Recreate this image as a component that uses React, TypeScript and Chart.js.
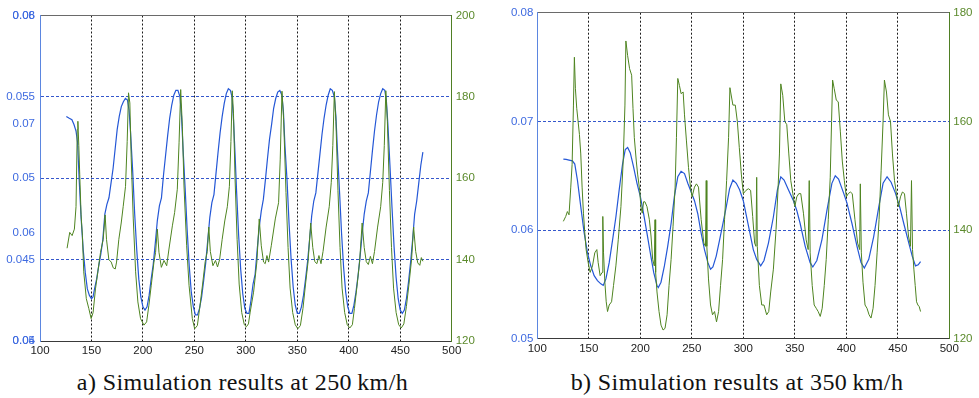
import React, { useEffect, useRef } from "react";
import { Chart, registerables } from "chart.js";

Chart.register(...registerables);

// ---------- Panel a) 250 km/h ----------
const A_BLUE_X = [125.6,128,131,133,135,136.5,138,140,142,144,146,148,150,151.5,153,155,157,159,161,163,165,167,169,171,173,175,177,179,181,183,185,186.5,188,190,192,194,196,198,200,202,204,206,208,210,212,214,216,218,220,222,224,226,228,230,232,234,236,237.5,239,241,243,245,247,249,251,253,255,257,259,261,263,265,267,269,271,273,275,277,279,281,283,285,286.5,288,289.5,291,293,295,297,299,301,303,305,307,309,311,313,315,317,319,321,323,325,327,329,331,333,335,336.5,338,340,342,344,346,348,350,352,354,356,358,360,362,364,366,368,370,372,374,376,378,380,382,384,386,387.5,389,391,393,395,397,399,401,403,405,407,409,411,413,415,417,419,421,423,425,427,429,431,433,435,436.5,438,440,442,444,446,448,450,452,454,456,458,460,462,464,466,468,470,472];
const A_BLUE = [0.0538,0.0537,0.0536,0.0533,0.0529,0.0522,0.05,0.0475,0.0456,0.0442,0.0432,0.0428,0.0426,0.0427,0.0432,0.0438,0.0446,0.0453,0.0462,0.0478,0.0484,0.0488,0.0497,0.0506,0.0518,0.053,0.0538,0.0544,0.0547,0.0549,0.0548,0.0542,0.0528,0.0505,0.0478,0.0456,0.0438,0.0427,0.0421,0.0419,0.0421,0.0428,0.0438,0.0447,0.046,0.0474,0.0483,0.0488,0.0502,0.0514,0.0526,0.0537,0.0545,0.0551,0.0554,0.0554,0.055,0.0538,0.0518,0.0494,0.0468,0.0446,0.043,0.0421,0.0416,0.0416,0.042,0.0427,0.0437,0.0448,0.0462,0.0476,0.0485,0.049,0.0503,0.0516,0.0528,0.0538,0.0546,0.0552,0.0555,0.0554,0.055,0.0536,0.0515,0.0492,0.0465,0.0444,0.0429,0.042,0.0417,0.0417,0.0425,0.0435,0.0441,0.0456,0.047,0.048,0.0487,0.0499,0.0512,0.0524,0.0533,0.0543,0.0549,0.0553,0.0554,0.0551,0.0541,0.052,0.0499,0.0472,0.045,0.0433,0.0422,0.0417,0.0417,0.0421,0.0428,0.0438,0.0449,0.0463,0.0477,0.0486,0.0491,0.0503,0.0515,0.0527,0.0537,0.0545,0.0551,0.0555,0.0554,0.055,0.0538,0.0517,0.0492,0.0466,0.0445,0.043,0.0421,0.0417,0.0417,0.0422,0.043,0.044,0.0452,0.0466,0.0478,0.0486,0.0491,0.0504,0.0517,0.0529,0.0539,0.0547,0.0552,0.0555,0.0554,0.0548,0.0533,0.0508,0.0482,0.0458,0.0439,0.0426,0.0419,0.0417,0.0419,0.0426,0.0436,0.0448,0.0462,0.0478,0.0486,0.0497,0.0508,0.0516];

const A_GREEN_X = [126.3,128.9,131.2,133.4,135,136.2,136.8,137.7,138.6,139.9,141.2,142.5,145,147.4,149.7,151.6,153.9,156.2,158.8,161.4,163.3,164.6,166.9,169.2,171.1,173.1,174.4,176.6,178.9,180.8,183.1,184.7,186,187.3,188.6,190.6,192.9,195.1,197.7,201,203.6,205.8,208.1,210.7,212.3,214,215.6,217.9,220.5,223.1,225.3,228.6,230.8,233.4,235.1,236.7,238.3,239.9,242.5,244.8,248,250.3,252.9,255.5,258,260.5,262.5,264,265.5,268,270.5,272.5,274.5,277,279.5,282,284,285.5,286.8,288,289.5,291.5,293.5,296,298.5,300.5,302.5,304.2,307.5,310.7,313,315,317.2,318.8,320.5,322.1,324.7,328.6,331.8,333.4,335.1,336.7,339,341,343,345.5,348,350.5,353,355.5,358,360.5,363,365,367,369,371,373,375,378,381,383,384.5,386,387.5,389.5,391.5,393.5,396,398.5,401,403.5,405.5,408,410.5,413,415,417,419,421,423,425,428,431,433,434.5,436,437.5,439.5,441.5,443.5,446,448.5,451,453.5,456,458.5,461,463,465,467,469,470.5,472];
const A_GREEN = [142.8,146.7,145.9,147.5,153,172,174,168,161,151,146,137,130.4,128,125.5,127,132.8,137,141.8,145,151,145,140,139.4,138,137.7,139.4,145,149,153,158,169,181,178.5,165,150,137,129.6,125.5,123.9,124.7,128.8,133.7,139.4,141.8,147.5,141.8,138.1,139.8,138.5,142.6,148.3,151.6,157.3,168.7,181.8,172.8,158.1,143.4,133.7,125.5,123,123.8,128.8,134,139.5,142,148,142,138.5,139.8,138.2,140,145,149.5,153,158,169,181.5,176,160,145,134,127,124,123.5,124.2,127.1,132,139.4,150,143.4,139.4,139,141,139.4,143.4,150,154,164.7,181.4,174.5,156.5,143,133,127,124,123,123.8,128,134,139.6,149,143,139.5,139,141,139,142,148,153,159,168,181.3,174,157,143,133,127,124,123.2,124,128,133.5,139.5,149,143,139.5,138.8,140.8,139,142,148,153,159,168,181.5,174,157,143,133,127,124,123.2,124.2,128.5,134,140,148,142,139.2,138.6,140.5,139.6];

// left axis of panel a) carries two overlapping tick sets
const A_LEFT_TICKS = [0.04, 0.04, 0.045, 0.046667, 0.05, 0.053333, 0.055, 0.06, 0.06];
const A_LEFT_LABELS = ["0.04", "0.05", "0.045", "0.06", "0.05", "0.07", "0.055", "0.06", "0.08"];
const A_LEFT_GRID = [0.045, 0.05, 0.055];
const A_RIGHT_MIN = 120;
const A_RIGHT_MAX = 200;

// ---------- Panel b) 350 km/h ----------
const B_BLUE_X = [125.3,128,130.8,134.1,136.4,139,142.2,145.5,148.7,151.9,155.2,158.4,161.7,164,166.6,169.8,173.1,176.3,179.5,182.8,185.4,187.7,190.3,193.5,196.8,200,203.2,206.5,209.7,213,216.2,217.5,220.1,223.4,226.6,229.9,233.1,236.4,239.6,242.9,246.1,249.4,252.6,255.8,259.1,262.3,265.6,268.2,270.5,273.7,277,280.2,283.4,286.7,289.9,293.2,296.4,300,303.2,306.5,309.7,313,316.9,320.1,324.4,329.2,333.1,336.4,339.6,343.8,348.7,351.9,355.2,360.1,364.9,367.5,371.4,376.3,381.2,386,389.3,392.5,397.4,400.6,405.5,410.4,414.3,417.5,421.8,426.6,431.5,435.7,439.6,443.5,447.7,451.9,455.8,460.7,464,467.2,469.8,472.1];
const B_BLUE = [0.06653,0.0665,0.06644,0.06637,0.06607,0.06456,0.06215,0.05973,0.05792,0.05671,0.0558,0.05535,0.05505,0.0549,0.0555,0.057,0.0591,0.0612,0.0637,0.0661,0.0674,0.0676,0.0671,0.0658,0.0643,0.0631,0.0615,0.0597,0.0579,0.0561,0.0549,0.0547,0.0552,0.0567,0.0585,0.0606,0.0631,0.0649,0.0654,0.0652,0.0643,0.0635,0.0627,0.0615,0.0597,0.0582,0.057,0.0564,0.0566,0.0576,0.0591,0.0606,0.0621,0.0638,0.0646,0.0643,0.0637,0.0627,0.0612,0.0597,0.0582,0.0573,0.0567,0.0572,0.0588,0.0612,0.0637,0.0649,0.0646,0.0637,0.0627,0.0618,0.0606,0.0585,0.057,0.0566,0.0572,0.0591,0.0618,0.0643,0.065,0.0647,0.0634,0.0625,0.0606,0.0585,0.057,0.0565,0.0573,0.0594,0.0621,0.0643,0.0649,0.0644,0.0634,0.0621,0.0606,0.0588,0.0576,0.0567,0.0568,0.0571];

const B_GREEN_X = [125.3,127.6,129.2,130.8,132.5,133.8,135.1,136,137,138.3,139.6,140.9,142.2,143.5,144.8,146.1,147.4,149.4,151.3,153.6,155.8,157.8,159.1,161,163,163.6,164.3,165.6,166.9,168.2,169.8,172.1,174,176.3,178.6,181.2,183.4,185.1,186,187.7,189.6,191.6,192.9,194.2,196.1,197.4,199.4,200.6,201.9,203.2,204.5,206.5,208.8,210.4,212,213.6,214.3,214.9,216.2,218.2,220.1,222.1,224,226,227.9,229.9,231.8,233.8,235.1,236.4,238,239.6,241.6,242.9,244.8,246.8,248.7,250.3,252.6,254.5,256.5,259.1,261.7,263.3,264,264.6,266.2,268.2,270.1,272.1,274,276,277.9,279.9,281.8,283.8,285.7,287,289.9,292.2,294.2,296.1,298.1,300,302.6,304.9,307.1,309.1,311,312.3,313,313.6,315.6,317.9,320.1,322.7,324.7,326.6,329.2,331.8,333.8,335.1,336.4,338.3,340.3,342.2,344.2,346.1,348.1,350,351.9,353.9,355.8,358.4,361,363,364,364.9,366.9,368.8,370.8,372.7,374.7,376.6,378.6,380.5,382.5,384.4,385.7,386.7,388.3,390.3,392.2,394.2,396.1,398.1,400,401.9,403.9,405.8,408.4,411,413,413.6,414.6,416.2,418.2,420.1,422.1,424,426,427.9,429.9,431.8,433.8,435.7,437,439,440.9,442.9,444.8,446.8,448.7,450.6,452.6,454.5,456.5,458.4,460.4,462.3,463.3,464.3,465.6,466.9,468.2,469.5,470.8,472.1];
const B_GREEN = [141.6,142.5,143.4,142.8,147.9,152.1,163,171.8,166,162.4,160,157.6,154,147.9,143.1,139.5,136.4,134,132.2,133.4,135.8,136.4,134,131.6,132.2,142.5,135.8,130.4,126.8,125,126.2,126.8,129.8,133.4,138.2,144.3,152.7,163,174.8,172.1,169.7,168.5,162.4,157,152.7,150.3,147.3,144.3,143.1,145.2,145.2,144.3,141.9,138.9,134.6,133.4,141.9,132.2,128.6,125,122.5,121.6,121.9,124.4,129.8,134.6,140.7,147.9,157,167.9,166.6,165.1,165.4,161.2,156.4,151.5,147.9,146.1,147.9,148.5,147.9,141.9,137.6,137,149.1,137,131,126.2,124.4,125,123.1,125,129.8,134.6,141.9,149.1,157,166.2,163,163,160,155.2,150.3,146.7,147.3,147.6,147.3,142.5,137.6,137,149.7,137,129.8,126.2,126.2,124.4,125,128.6,132.8,140.1,147.9,154,166.9,164.8,160,159.4,154,149.1,146.7,144.3,146.1,146.7,146.7,143.1,138.2,136.4,149.1,135.8,129.8,126.2,125.6,125,124.1,125.6,129.8,134.6,141.9,149.7,160,167.6,166,163.9,163.6,158.2,152.7,149.1,146.1,146.7,147,146.7,141.9,137.6,136.4,148.5,135.8,130.4,126.2,125.6,124.4,123.8,125.6,129.8,135.8,141.9,150.9,160,167.6,165.4,161.2,160,154,149.1,146.7,144.3,146.1,147,146.7,143.1,138.9,137,149.1,136.4,132.8,129.8,126.8,126.2,125.9,125];

const B_LEFT_TICKS = [0.05, 0.06, 0.07, 0.08];
const B_LEFT_LABELS = ["0.05", "0.06", "0.07", "0.08"];
const B_LEFT_GRID = [0.06, 0.07];
const B_RIGHT_MIN = 120;
const B_RIGHT_MAX = 180;

const X_MIN = 100;
const X_MAX = 500;
const X_STEP = 50;
const RIGHT_STEP = 20;

const CAPTION_A = "a) Simulation results at 250\u2009km/h";
const CAPTION_B = "b) Simulation results at 350\u2009km/h";

// ---------- styling ----------
const FONT = { family: "'Liberation Sans', Arial, sans-serif", size: 11.5 };
const BLUE_LINE = "#2457d6";
const GREEN_LINE = "#4e8420";
const BLUE_TEXT = "#3e6ae0";
const GREEN_TEXT = "#5b8a2c";
const BLUE_AXIS = "#5b86e0";
const GREEN_AXIS = "#4f7f24";
const BLUE_GRID = "#3557cc";
const CLEAR = "rgba(0,0,0,0)";

function pts(xs: number[], ys: number[]) {
  return xs.map((x, i) => ({ x, y: ys[i] }));
}

interface PanelSpec {
  left: number;
  width: number;
  height: number;
  padTop: number;
  leftW: number;
  rightW: number;
  bottomH: number;
  blueX: number[];
  blue: number[];
  greenX: number[];
  green: number[];
  leftMin: number;
  leftMax: number;
  leftTicks: number[];
  leftLabels: string[];
  leftGrid: number[];
  leftPad: number;
  rightMin: number;
  rightMax: number;
}

function makeConfig(p: PanelSpec): any {
  return {
    type: "line",
    data: {
      datasets: [
        {
          data: pts(p.blueX, p.blue),
          yAxisID: "y",
          borderColor: BLUE_LINE,
          borderWidth: 1.2,
          pointRadius: 0,
          tension: 0,
          fill: false,
          order: 1,
        },
        {
          data: pts(p.greenX, p.green),
          yAxisID: "y2",
          borderColor: GREEN_LINE,
          borderWidth: 1,
          pointRadius: 0,
          tension: 0,
          fill: false,
          order: 0,
        },
      ],
    },
    options: {
      animation: false,
      responsive: false,
      events: [],
      layout: { padding: { top: p.padTop, left: 0, right: 0, bottom: 0 } },
      plugins: { legend: { display: false }, tooltip: { enabled: false }, title: { display: false } },
      scales: {
        x: {
          type: "linear",
          position: "bottom",
          min: X_MIN,
          max: X_MAX,
          ticks: { stepSize: X_STEP, color: "#222", font: FONT, padding: 3, maxRotation: 0, autoSkip: false },
          grid: {
            drawTicks: false,
            lineWidth: 1,
            color: (ctx: any) =>
              ctx.tick && ctx.tick.value > X_MIN && ctx.tick.value < X_MAX ? "#1a1a1a" : CLEAR,
          },
          border: { color: "#3a3a3a", width: 1, dash: [2, 2] },
          afterFit: (s: any) => {
            s.height = p.bottomH;
          },
        },
        xTop: {
          type: "linear",
          position: "top",
          min: X_MIN,
          max: X_MAX,
          ticks: { display: false },
          grid: { display: false, drawTicks: false },
          border: { color: "#6a6a6a", width: 1 },
          afterFit: (s: any) => {
            s.height = 0;
          },
        },
        y: {
          type: "linear",
          position: "left",
          min: p.leftMin,
          max: p.leftMax,
          afterBuildTicks: (s: any) => {
            s.ticks = p.leftTicks.map((v) => ({ value: v }));
          },
          ticks: {
            autoSkip: false,
            color: BLUE_TEXT,
            font: FONT,
            padding: p.leftPad,
            callback: (_v: any, i: number) => p.leftLabels[i],
          },
          grid: {
            drawTicks: false,
            lineWidth: 1,
            color: (ctx: any) => (ctx.tick && p.leftGrid.includes(ctx.tick.value) ? BLUE_GRID : CLEAR),
          },
          border: { color: BLUE_AXIS, width: 1, dash: [3, 2] },
          afterFit: (s: any) => {
            s.width = p.leftW;
          },
        },
        y2: {
          type: "linear",
          position: "right",
          min: p.rightMin,
          max: p.rightMax,
          ticks: { stepSize: RIGHT_STEP, color: GREEN_TEXT, font: FONT, padding: 4, autoSkip: false },
          grid: { display: false, drawTicks: false },
          border: { color: GREEN_AXIS, width: 1 },
          afterFit: (s: any) => {
            s.width = p.rightW;
          },
        },
      },
    },
  };
}

function Panel({ spec }: { spec: PanelSpec }) {
  const ref = useRef<HTMLCanvasElement>(null);
  useEffect(() => {
    if (!ref.current) return;
    const chart = new Chart(ref.current, makeConfig(spec));
    return () => chart.destroy();
  }, [spec]);
  return (
    <canvas
      ref={ref}
      width={spec.width}
      height={spec.height}
      style={{ position: "absolute", left: spec.left, top: 0, width: spec.width, height: spec.height }}
    />
  );
}

const SPEC_A: PanelSpec = {
  left: 0,
  width: 490,
  height: 360,
  padTop: 15.5,
  leftW: 40,
  rightW: 38.3,
  bottomH: 19,
  blueX: A_BLUE_X,
  blue: A_BLUE,
  greenX: A_GREEN_X,
  green: A_GREEN,
  leftMin: 0.04,
  leftMax: 0.06,
  leftTicks: A_LEFT_TICKS,
  leftLabels: A_LEFT_LABELS,
  leftGrid: A_LEFT_GRID,
  leftPad: 5,
  rightMin: A_RIGHT_MIN,
  rightMax: A_RIGHT_MAX,
};

const SPEC_B: PanelSpec = {
  left: 497,
  width: 482,
  height: 360,
  padTop: 12.7,
  leftW: 40.3,
  rightW: 29.7,
  bottomH: 21.3,
  blueX: B_BLUE_X,
  blue: B_BLUE,
  greenX: B_GREEN_X,
  green: B_GREEN,
  leftMin: 0.05,
  leftMax: 0.08,
  leftTicks: B_LEFT_TICKS,
  leftLabels: B_LEFT_LABELS,
  leftGrid: B_LEFT_GRID,
  leftPad: 4,
  rightMin: B_RIGHT_MIN,
  rightMax: B_RIGHT_MAX,
};

const captionStyle = (center: number): React.CSSProperties => ({
  position: "absolute",
  left: center - 200,
  width: 400,
  top: 370,
  textAlign: "center",
  fontFamily: "'Liberation Serif', 'Times New Roman', serif",
  fontSize: 24,
  lineHeight: "24px",
  letterSpacing: "0.4px",
  color: "#111",
  whiteSpace: "nowrap",
});

export default function App() {
  return (
    <div style={{ position: "absolute", left: 0, top: 0, width: 979, height: 398, background: "#fff", overflow: "hidden" }}>
      <Panel spec={SPEC_A} />
      <Panel spec={SPEC_B} />
      <div style={captionStyle(242.5)}>{CAPTION_A}</div>
      <div style={captionStyle(737)}>{CAPTION_B}</div>
    </div>
  );
}
